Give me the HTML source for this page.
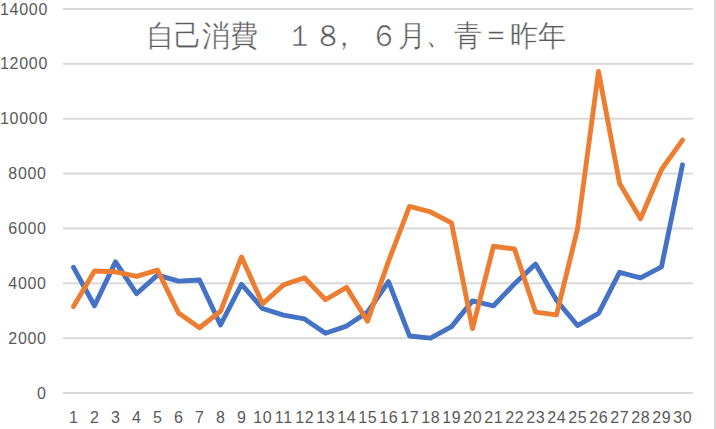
<!DOCTYPE html>
<html lang="ja"><head><meta charset="utf-8">
<style>
html,body{margin:0;padding:0;background:#fff;}
body{width:716px;height:429px;position:relative;overflow:hidden;font-family:"Liberation Sans",sans-serif;}
svg{position:absolute;left:0;top:0;}
.yl{position:absolute;left:0;width:46.7px;letter-spacing:0.7px;text-align:right;font-size:16px;line-height:18px;color:#595959;}
.xl{position:absolute;top:409px;width:30px;letter-spacing:0.7px;text-indent:0.7px;text-align:center;font-size:16px;line-height:18px;color:#595959;}
.title{position:absolute;left:146px;top:20px;width:418px;font-size:27.8px;line-height:32px;color:#595959;white-space:nowrap;-webkit-text-stroke:0.35px #fff;transform:scaleY(1.07);transform-origin:0 15px;}
.cm{position:relative;left:-12.5px;}
.eq{position:relative;top:-2.5px;}
.dt{position:relative;left:-1.5px;top:-2px;}

.rb{position:absolute;left:714px;top:0;width:2px;height:429px;background:#d9d9d9;}
</style></head><body>
<svg width="716" height="429" viewBox="0 0 716 429">
<rect x="63" y="8.00" width="630" height="2" fill="#d9d9d9"/>
<rect x="63" y="62.86" width="630" height="2" fill="#d9d9d9"/>
<rect x="63" y="117.71" width="630" height="2" fill="#d9d9d9"/>
<rect x="63" y="172.57" width="630" height="2" fill="#d9d9d9"/>
<rect x="63" y="227.43" width="630" height="2" fill="#d9d9d9"/>
<rect x="63" y="282.29" width="630" height="2" fill="#d9d9d9"/>
<rect x="63" y="337.14" width="630" height="2" fill="#d9d9d9"/>
<rect x="63" y="392.00" width="630" height="2" fill="#d9d9d9"/>

<polyline points="73.50,267.38 94.50,305.78 115.50,261.89 136.50,293.71 157.50,275.06 178.50,281.09 199.50,279.99 220.50,324.98 241.50,284.38 262.50,308.52 283.50,315.10 304.50,318.94 325.50,333.21 346.50,326.07 367.50,312.09 388.50,281.64 409.50,335.95 430.50,338.14 451.50,326.62 472.50,300.84 493.50,305.78 514.50,283.83 535.50,264.09 556.50,300.29 577.50,325.53 598.50,313.46 619.50,272.31 640.50,277.80 661.50,266.83 682.50,164.79" fill="none" stroke="#4472c4" stroke-width="4.9" stroke-linejoin="round" stroke-linecap="round"/>
<polyline points="73.50,306.60 94.50,270.94 115.50,271.77 136.50,276.43 157.50,270.12 178.50,312.91 199.50,327.72 220.50,311.26 241.50,256.95 262.50,303.86 283.50,284.93 304.50,277.80 325.50,299.74 346.50,287.40 367.50,321.14 388.50,261.34 409.50,206.49 430.50,211.97 451.50,222.94 472.50,328.54 493.50,246.26 514.50,249.00 535.50,312.09 556.50,314.83 577.50,228.98 598.50,71.54 619.50,183.17 640.50,218.83 661.50,169.46 682.50,140.11" fill="none" stroke="#ed7d31" stroke-width="4.9" stroke-linejoin="round" stroke-linecap="round"/>
</svg>
<div class="yl" style="top:0.50px">14000</div>
<div class="yl" style="top:55.36px">12000</div>
<div class="yl" style="top:110.21px">10000</div>
<div class="yl" style="top:165.07px">8000</div>
<div class="yl" style="top:219.93px">6000</div>
<div class="yl" style="top:274.79px">4000</div>
<div class="yl" style="top:329.64px">2000</div>
<div class="yl" style="top:384.50px">0</div>

<div class="xl" style="left:58.50px">1</div>
<div class="xl" style="left:79.50px">2</div>
<div class="xl" style="left:100.50px">3</div>
<div class="xl" style="left:121.50px">4</div>
<div class="xl" style="left:142.50px">5</div>
<div class="xl" style="left:163.50px">6</div>
<div class="xl" style="left:184.50px">7</div>
<div class="xl" style="left:205.50px">8</div>
<div class="xl" style="left:226.50px">9</div>
<div class="xl" style="left:247.50px">10</div>
<div class="xl" style="left:268.50px">11</div>
<div class="xl" style="left:289.50px">12</div>
<div class="xl" style="left:310.50px">13</div>
<div class="xl" style="left:331.50px">14</div>
<div class="xl" style="left:352.50px">15</div>
<div class="xl" style="left:373.50px">16</div>
<div class="xl" style="left:394.50px">17</div>
<div class="xl" style="left:415.50px">18</div>
<div class="xl" style="left:436.50px">19</div>
<div class="xl" style="left:457.50px">20</div>
<div class="xl" style="left:478.50px">21</div>
<div class="xl" style="left:499.50px">22</div>
<div class="xl" style="left:520.50px">23</div>
<div class="xl" style="left:541.50px">24</div>
<div class="xl" style="left:562.50px">25</div>
<div class="xl" style="left:583.50px">26</div>
<div class="xl" style="left:604.50px">27</div>
<div class="xl" style="left:625.50px">28</div>
<div class="xl" style="left:646.50px">29</div>
<div class="xl" style="left:667.50px">30</div>

<div class="title">自己消費　１８<span class="cm">，</span>６月<span class="dt">、</span>青<span class="eq">＝</span>昨年</div>
<div class="rb"></div>
</body></html>
